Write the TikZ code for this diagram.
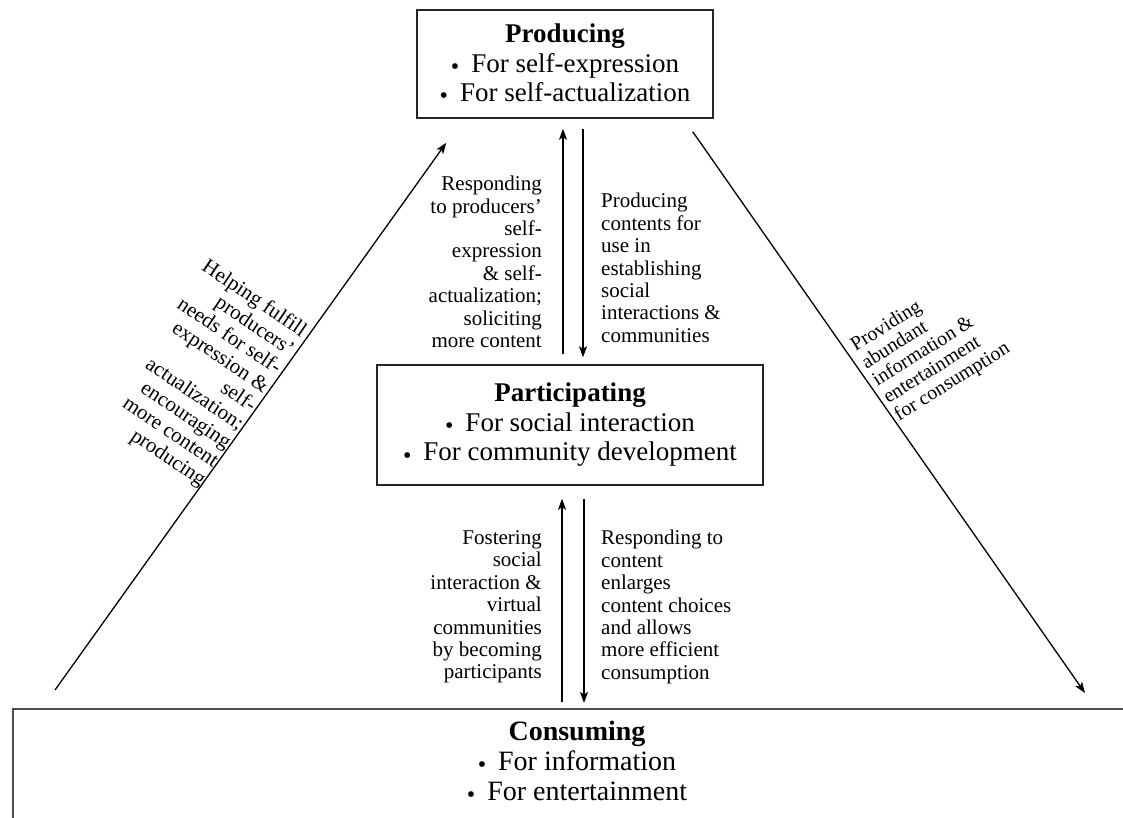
\documentclass[tikz,border=0pt]{standalone}
\usepackage{fontspec}
\setmainfont{Liberation Serif}
\usetikzlibrary{arrows.meta, positioning}
\tikzstyle{stage} = [rectangle, draw=black!85, line width=1.5pt, align=center, inner sep=0pt, font=\fontsize{27}{29.5}\selectfont]
\tikzstyle{frame} = [draw=black!70, line width=2pt]
\tikzstyle{note} = [font=\fontsize{21}{22.4}\selectfont, inner sep=2pt]
\tikzstyle{arrow} = [line width=1.3pt, -{Stealth[length=11pt,width=8pt,inset=2.5pt]}]
\newcommand{\bul}{\raisebox{-0.08em}{\fontsize{24}{24}\selectfont\textbullet}\hspace{12pt}}

\begin{document}
\begin{tikzpicture}[x=1pt, y=-1pt]
\useasboundingbox (0,0) rectangle (1123,818);
\clip (0,0) rectangle (1123,818);
\node (prod) [stage, minimum width=296pt, minimum height=108pt] at (565,64) {\textbf{Producing}\\ \bul For self-expression\\ \bul For self-actualization};
\node (part) [stage, minimum width=386pt, minimum height=120pt] at (570,425) {\textbf{Participating}\\ \bul For social interaction\\ \bul For community development};
\coordinate (cframe) at (13,709);	%consuming box runs off the page to the right and below
\draw [frame] ([yshift=-200pt]cframe) -- (cframe) -- ([xshift=1200pt]cframe);
\node (cons) [font=\fontsize{28}{30}\selectfont, align=center] at (577,762) {\textbf{Consuming}\\ \bul For information\\ \bul For entertainment};
% arrows between producing and participating
\draw [arrow, shorten <=10pt, shorten >=10pt] ([xshift=-7pt]part.north) -- ([xshift=-2pt]prod.south);
\draw [arrow, shorten <=10pt, shorten >=7pt] ([xshift=18pt]prod.south) -- ([xshift=13pt]part.north);
\node (respond) [note, anchor=east, align=right] at (544,262) {Responding\\ to producers'\\ self-\\ expression\\ \& self-\\ actualization;\\ soliciting\\ more content};
\node (contents) [note, anchor=west, align=left] at (599,268) {Producing\\ contents for\\ use in\\ establishing\\ social\\ interactions \&\\ communities};
% arrows between participating and consuming
\coordinate (upB) at ([xshift=-8pt]part.south);
\coordinate (downB) at ([xshift=14pt]part.south);
\draw [arrow, shorten <=7pt, shorten >=13pt] (upB |- cframe) -- (upB);
\draw [arrow, shorten <=13pt, shorten >=6pt] (downB) -- (downB |- cframe);
\node (foster) [note, anchor=east, align=right] at (544,607) {Fostering\\ social\\ interaction \&\\ virtual\\ communities\\ by becoming\\ participants};
\node (enlarge) [note, anchor=west, align=left] at (599,607) {Responding to\\ content\\ enlarges\\ content choices\\ and allows\\ more efficient\\ consumption};
% the two long sides
\coordinate (lfoot) at (55,690);
\coordinate (rfoot) at (1085,693);
\draw [arrow] (lfoot) -- node [note, font=\fontsize{21}{22.5}\selectfont, pos=0.513, anchor=east, rotate=-34, align=right] (helping) {Helping fulfill\\ producers'\\ needs for self-\\ expression \&\\ self-\\ actualization;\\ encouraging\\ more content\\ producing} ([xshift=30pt,yshift=-24pt]prod.south west);
\draw [arrow] ([xshift=-21pt,yshift=-13pt]prod.south east) -- node [note, font=\fontsize{20}{20.5}\selectfont, pos=0.452, anchor=west, rotate=32, align=left, inner sep=5pt] (providing) {Providing\\ abundant\\ information \&\\ entertainment\\ for consumption} (rfoot);
\end{tikzpicture}
\end{document}
